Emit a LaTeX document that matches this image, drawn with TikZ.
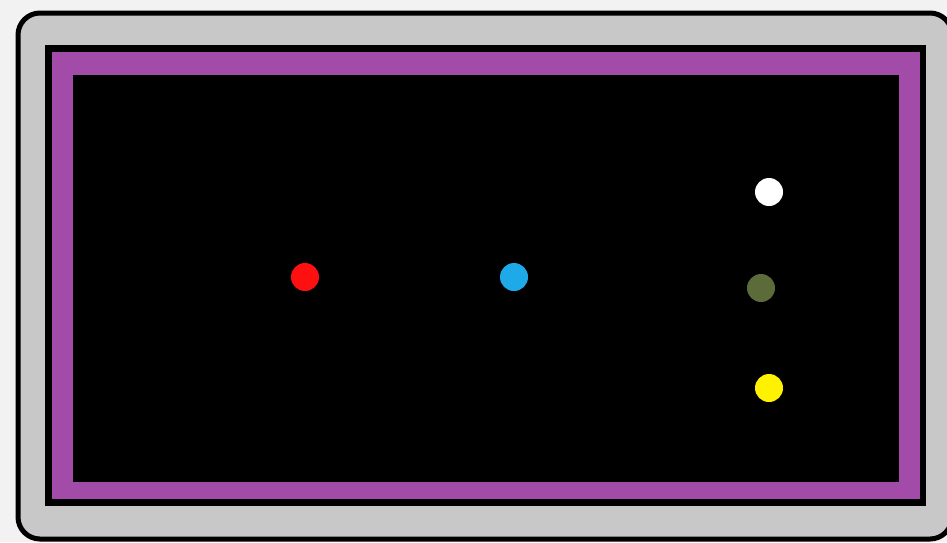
\documentclass[tikz,border=0pt]{standalone}
\begin{document}
\begin{tikzpicture}[x=1pt,y=-1pt,
  dot/.style={circle,inner sep=0pt,minimum size=28pt}]
\definecolor{pagebg}{HTML}{F2F2F2}
\definecolor{framegray}{HTML}{C8C8C8}
\definecolor{bandpurple}{HTML}{A24BA8}
\definecolor{dotred}{HTML}{FF1010}
\definecolor{dotblue}{HTML}{1EAAE8}
\definecolor{dotolive}{HTML}{5C6B3A}
\definecolor{dotyellow}{HTML}{FFF200}
\useasboundingbox (0,0) rectangle (947,542);
\fill[pagebg] (0,0) rectangle (947,542);
\draw[line width=5pt,fill=framegray,rounded corners=22pt] (18,13) rectangle (952,539);
\fill[black] (45,45) rectangle (926,506);
\fill[bandpurple] (52,52) rectangle (920,499);
\fill[black] (73,75) rectangle (899,482);
\node[dot,fill=dotred] (red) at (305,277) {};
\node[dot,fill=dotblue] (blue) at (514,277) {};
\node[dot,fill=white] (white) at (769,192) {};
\node[dot,fill=dotolive] (olive) at (761,288) {};
\node[dot,fill=dotyellow] (yellow) at (769,388) {};
\end{tikzpicture}
\end{document}
